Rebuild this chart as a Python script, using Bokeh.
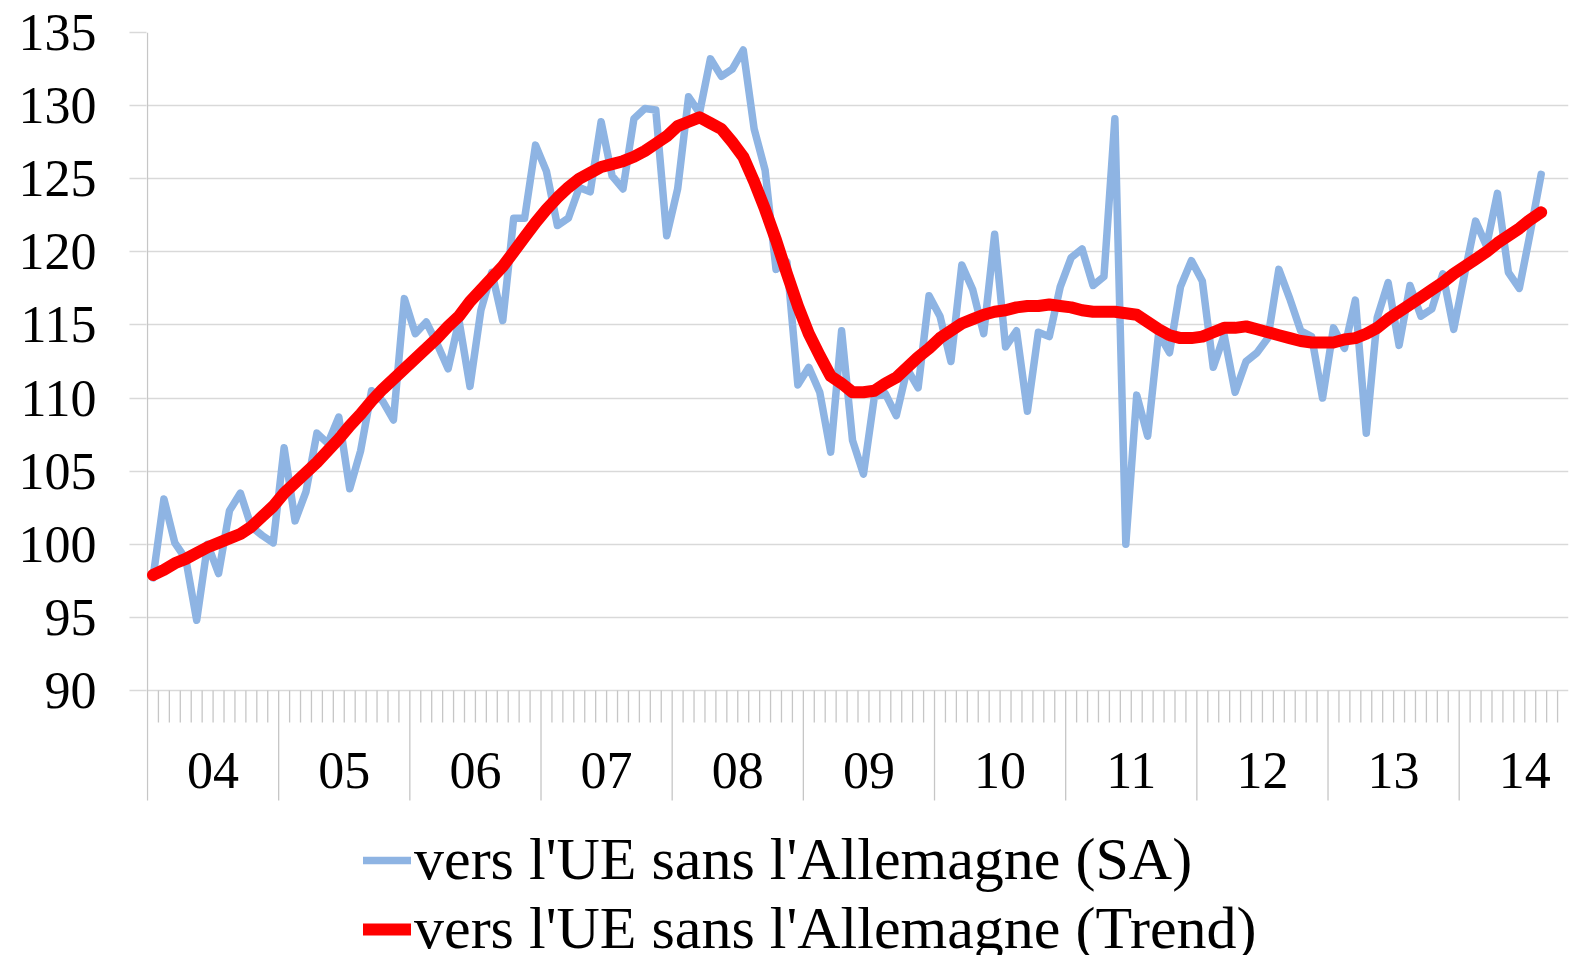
import numpy as np
from bokeh.plotting import figure
from bokeh.models import Range1d, FixedTicker, Legend, LegendItem, ColumnDataSource
from bokeh.core.properties import value
from bokeh.embed import file_html
from bokeh.resources import INLINE

# ---- data (monthly, Jan 2004 .. Aug 2014) ----
year_labels = ["04", "05", "06", "07", "08", "09", "10", "11", "12", "13", "14"]
sa = [97.7, 103.1, 100.1, 99.0, 94.8, 100.0, 98.0, 102.3, 103.5, 101.2, 100.6, 100.1,
      106.6, 101.6, 103.6, 107.6, 106.9, 108.7, 103.8, 106.4, 110.5, 109.8, 108.5, 116.8,
      114.4, 115.2, 113.7, 112.0, 115.3, 110.8, 116.0, 118.6, 115.3, 122.3, 122.3, 127.3,
      125.5, 121.8, 122.3, 124.4, 124.1, 128.9, 125.2, 124.3, 129.1, 129.8, 129.7, 121.1,
      124.3, 130.6, 129.5, 133.2, 132.0, 132.5, 133.8, 128.4, 125.6, 118.8, 119.3, 110.9,
      112.1, 110.4, 106.3, 114.6, 107.1, 104.8, 110.1, 110.3, 108.8, 112.0, 110.7, 117.0,
      115.6, 112.5, 119.1, 117.4, 114.4, 121.2, 113.5, 114.6, 109.1, 114.5, 114.2, 117.6,
      119.6, 120.2, 117.7, 118.3, 129.1, 100.0, 110.2, 107.4, 114.4, 113.1, 117.6, 119.4,
      118.0, 112.1, 114.3, 110.4, 112.5, 113.1, 114.1, 118.8, 116.8, 114.6, 114.2, 110.0,
      114.8, 113.4, 116.7, 107.6, 115.5, 117.9, 113.6, 117.7, 115.6, 116.1, 118.5, 114.7,
      118.5, 122.1, 120.4, 124.0, 118.6, 117.5, 121.3, 125.3]
trend = [97.9, 98.25, 98.7, 99.0, 99.4, 99.8, 100.1, 100.4, 100.7, 101.2, 101.9, 102.6,
         103.5, 104.2, 104.9, 105.6, 106.4, 107.2, 108.1, 108.9, 109.8, 110.6, 111.3, 112.0,
         112.7, 113.4, 114.1, 114.9, 115.6, 116.6, 117.4, 118.2, 119.0, 120.0, 121.0, 122.0,
         122.9, 123.7, 124.4, 125.0, 125.4, 125.8, 126.0, 126.2, 126.5, 126.9, 127.4, 127.9,
         128.6, 128.9, 129.2, 128.8, 128.4, 127.5, 126.5, 124.8, 122.9, 120.8, 118.5, 116.3,
         114.4, 112.9, 111.5, 111.0, 110.4, 110.4, 110.5, 111.0, 111.4, 112.1, 112.8, 113.4,
         114.1, 114.6, 115.1, 115.4, 115.7, 115.9, 116.0, 116.2, 116.3, 116.3, 116.4, 116.3,
         116.2, 116.0, 115.9, 115.9, 115.9, 115.8, 115.7, 115.2, 114.7, 114.3, 114.1, 114.1,
         114.2, 114.5, 114.8, 114.8, 114.9, 114.7, 114.5, 114.3, 114.1, 113.9, 113.8, 113.8,
         113.8, 114.0, 114.1, 114.4, 114.8, 115.4, 115.9, 116.4, 116.9, 117.4, 117.9, 118.5,
         119.0, 119.5, 120.0, 120.6, 121.1, 121.6, 122.2, 122.7]
y_ticks = [90, 95, 100, 105, 110, 115, 120, 125, 130, 135]

# ---- layout constants ----
W, H = 1576, 955
n_axis_months = 130
left_px, right_px, top_px = 146, 8, 32
px_per_unit = 14.622
tick_area_px = 110          # below the 90 line
minor_tick_px = 32
y_min, y_max = 90, 135
frame_h = H - top_px
y_bottom = y_max - frame_h / px_per_unit
tick_bottom = y_min - tick_area_px / px_per_unit
x_start = -(147 - left_px) * n_axis_months / (W - right_px - 147)
FONT = "Liberation Serif"
GRID = "#D9D9D9"
AXIS = "#C6C6C6"

p = figure(width=W, height=H, output_backend="svg", toolbar_location=None,
           x_range=Range1d(x_start, n_axis_months), y_range=Range1d(y_bottom, y_max),
           x_axis_location=None, min_border_left=left_px, min_border_right=right_px,
           min_border_top=top_px, min_border_bottom=0)
p.outline_line_color = None
p.xgrid.visible = False
p.ygrid.ticker = FixedTicker(ticks=y_ticks)
p.ygrid.grid_line_color = GRID
p.ygrid.grid_line_width = 1.3

ax = p.yaxis[0]
ax.ticker = FixedTicker(ticks=y_ticks, minor_ticks=[])
ax.axis_line_color = None
ax.major_tick_line_color = GRID
ax.major_tick_line_width = 1.3
ax.major_tick_out = 17
ax.major_tick_in = 0
ax.minor_tick_line_color = None
ax.major_label_text_font = FONT
ax.major_label_text_font_size = "52px"
ax.major_label_text_color = "black"
ax.major_label_standoff = 33

# value-axis line, month ticks and year separators
p.segment(x0=[0], y0=[y_max], x1=[0], y1=[tick_bottom], line_color=AXIS, line_width=1.3)
months = np.arange(1, n_axis_months)
minor = months[months % 12 != 0]
p.segment(x0=minor, y0=y_min, x1=minor, y1=y_min - minor_tick_px / px_per_unit,
          line_color=AXIS, line_width=1.3)
majors = np.arange(12, n_axis_months, 12)
p.segment(x0=majors, y0=y_min, x1=majors, y1=tick_bottom, line_color=AXIS, line_width=1.3)

# year labels
centers = np.arange(len(year_labels)) * 12 + 6
label_y = y_min - 80 / px_per_unit
p.text(x=centers, y=[label_y] * len(centers), text=year_labels,
       text_font=value(FONT), text_font_size="52px", text_align="center",
       text_baseline="middle", text_color="black")

x = np.arange(len(sa)) + 0.5
src = ColumnDataSource(dict(x=x, sa=sa, trend=trend))
r_sa = p.line("x", "sa", source=src, line_color="#8EB4E3", line_width=7.5,
              line_join="round", line_cap="round")
r_tr = p.line("x", "trend", source=src, line_color="#FF0000", line_width=12,
              line_join="round", line_cap="round")

legend = Legend(items=[LegendItem(label="vers l'UE sans l'Allemagne (SA)", renderers=[r_sa]),
                       LegendItem(label="vers l'UE sans l'Allemagne (Trend)", renderers=[r_tr])],
                location=(364 - 147, -8), orientation="vertical",
                label_text_font=FONT, label_text_font_size="60px",
                label_text_color="black",
                glyph_width=48, glyph_height=20, label_standoff=3, spacing=-11,
                padding=0, margin=0, border_line_color=None, background_fill_alpha=0)
p.add_layout(legend)

open("out.html", "w").write(file_html(p, INLINE))
